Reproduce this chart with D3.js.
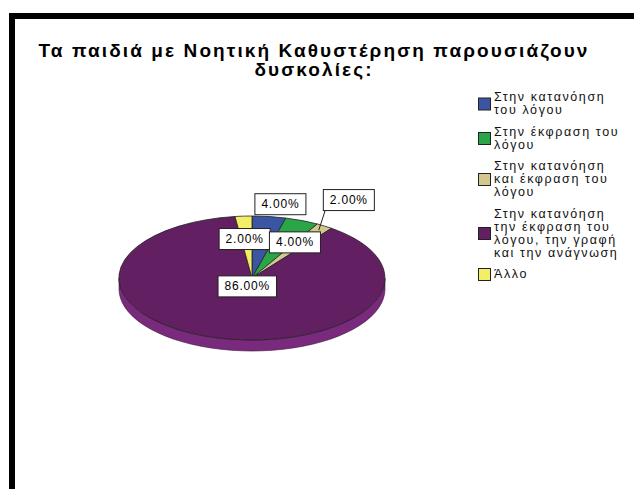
<!DOCTYPE html>
<html>
<head>
<meta charset="utf-8">
<script src="https://cdn.jsdelivr.net/npm/d3@7"></script>
<style>
	body { margin: 0; background: #fff; }
	text { font-family: "Liberation Sans", Arial, sans-serif; }
</style>
</head>
<body>
<script>

//Chart data
let categories = [
	["Στην κατανόηση", "του λόγου"],
	["Στην έκφραση του", "λόγου"],
	["Στην κατανόηση", "και έκφραση του", "λόγου"],
	["Στην κατανόηση", "την έκφραση του", "λόγου, την γραφή", "και την ανάγνωση"],
	["Άλλο"]
];
let percents = [4, 4, 2, 86, 2];
let valueLabels = ["4.00%", "4.00%", "2.00%", "86.00%", "2.00%"];
let titleLines = ["Τα παιδιά με Νοητική Καθυστέρηση παρουσιάζουν", "δυσκολίες:"];

//Styling and layout, kept apart from the data
let topColors = ["#3b55a3", "#2aa648", "#d2c78e", "#621f62", "#f3ee66"];
let sideColors = ["#2c4180", "#1f7f36", "#a89e6c", "#7a2a7d", "#c2bd4f"];
let labelRadius = [1.2, 0.62, 1.5, 0.14, 0.63];
let labelShift = [8, 12, -12, 0, -2];

window.onload = drawChart();

function drawChart(){

	let width = 634;
	let height = 489;

	let svg = d3.select("body")
		.append("svg")
		.attr("width", width)
		.attr("height", height);

	svg.append("rect")
		.attr("width", width)
		.attr("height", height)
		.attr("fill", "#fff");

	//Heavy frame, open at the right and bottom
	svg.append("rect")
		.attr("x", 12)
		.attr("y", 16)
		.attr("width", 700)
		.attr("height", 600)
		.attr("fill", "none")
		.attr("stroke", "#000")
		.attr("stroke-width", 6);

	//Title
	svg.selectAll(".title")
		.data(titleLines)
		.enter()
		.append("text")
		.attr("class", "title")
		.attr("x", 314)
		.attr("y", (d, i) => 57 + i * 19)
		.attr("text-anchor", "middle")
		.attr("font-size", 19)
		.attr("font-weight", "bold")
		.attr("letter-spacing", 2.1)
		.text(d => d);

	//Pie geometry (ellipse seen at an angle)
	let cx = 252, cy = 278, rx = 133, ry = 62, depth = 11;

	let pie = d3.pie().sort(null).value(d => d);
	let arcs = pie(percents);

	let arc = d3.arc().innerRadius(0).outerRadius(1);

	let pt = (a, dy) => [cx + rx * Math.sin(a), cy - ry * Math.cos(a) + (dy || 0)];

	//Side wall, only the front half is seen
	let side = svg.append("g");
	arcs.forEach(function(d, i){
		let s = Math.max(d.startAngle, Math.PI / 2);
		let e = Math.min(d.endAngle, Math.PI * 3 / 2);
		if (e <= s) return;
		let steps = d3.range(0, 41).map(k => s + (e - s) * k / 40);
		let ptsTop = steps.map(a => pt(a, 0));
		let ptsBot = steps.slice().reverse().map(a => pt(a, depth));
		side.append("path")
			.attr("d", d3.line()(ptsTop.concat(ptsBot)) + "Z")
			.attr("fill", sideColors[i])
			.attr("stroke", "#3a1038")
			.attr("stroke-width", 0.6);
	});

	//Top surface
	let top = svg.append("g")
		.attr("transform", "translate(" + cx + "," + cy + ") scale(" + rx + "," + ry + ")");

	top.selectAll(".slice")
		.data(arcs)
		.enter()
		.append("path")
		.attr("class", "slice")
		.attr("d", arc)
		.attr("fill", (d, i) => topColors[i])
		.attr("stroke", "#222")
		.attr("stroke-width", 0.8)
		.attr("vector-effect", "non-scaling-stroke");

	//Leader line for the small tan slice
	let mid = d => (d.startAngle + d.endAngle) / 2;
	let tan = arcs[2];
	let a = mid(tan);
	let p0 = [cx + rx * 0.92 * Math.sin(a), cy - ry * 0.92 * Math.cos(a)];
	let p1 = [cx + rx * 1.4 * Math.sin(a) - 27, cy - ry * 1.4 * Math.cos(a) + 1];
	svg.append("line")
		.attr("x1", p0[0]).attr("y1", p0[1])
		.attr("x2", p1[0]).attr("y2", p1[1])
		.attr("stroke", "#222")
		.attr("stroke-width", 1);

	//Value labels in white boxes
	let order = [3, 0, 2, 4, 1];
	order.forEach(function(i){
		let d = arcs[i];
		let m = mid(d);
		let x = cx + rx * labelRadius[i] * Math.sin(m) + labelShift[i];
		let y = cy - ry * labelRadius[i] * Math.cos(m);
		let g = svg.append("g");
		let t = g.append("text")
			.attr("x", x)
			.attr("y", y + 4)
			.attr("text-anchor", "middle")
			.attr("font-size", 12)
			.attr("letter-spacing", 0.8)
			.text(valueLabels[i]);
		let w = t.node().getComputedTextLength() + 13;
		g.insert("rect", "text")
			.attr("x", x - w / 2)
			.attr("y", y - 10.5)
			.attr("width", w)
			.attr("height", 21)
			.attr("fill", "#fff")
			.attr("stroke", "#222")
			.attr("stroke-width", 1);
	});

	//Legend
	let lineH = 13, gap = 8.5;
	let y0 = 91;
	let legend = svg.append("g");
	categories.forEach(function(lines, i){
		let h = lines.length * lineH;
		let c = y0 + h / 2;
		legend.append("rect")
			.attr("x", 478.5)
			.attr("y", c - 6)
			.attr("width", 12)
			.attr("height", 12)
			.attr("fill", topColors[i])
			.attr("stroke", "#222")
			.attr("stroke-width", 1);
		legend.selectAll(null)
			.data(lines)
			.enter()
			.append("text")
			.attr("x", 494)
			.attr("y", (d, k) => y0 + k * lineH + 10)
			.attr("font-size", 12.5)
			.attr("letter-spacing", 1.6)
			.attr("fill", "#111")
			.text(d => d);
		y0 += h + gap;
	});
};

</script>
</body>
</html>
